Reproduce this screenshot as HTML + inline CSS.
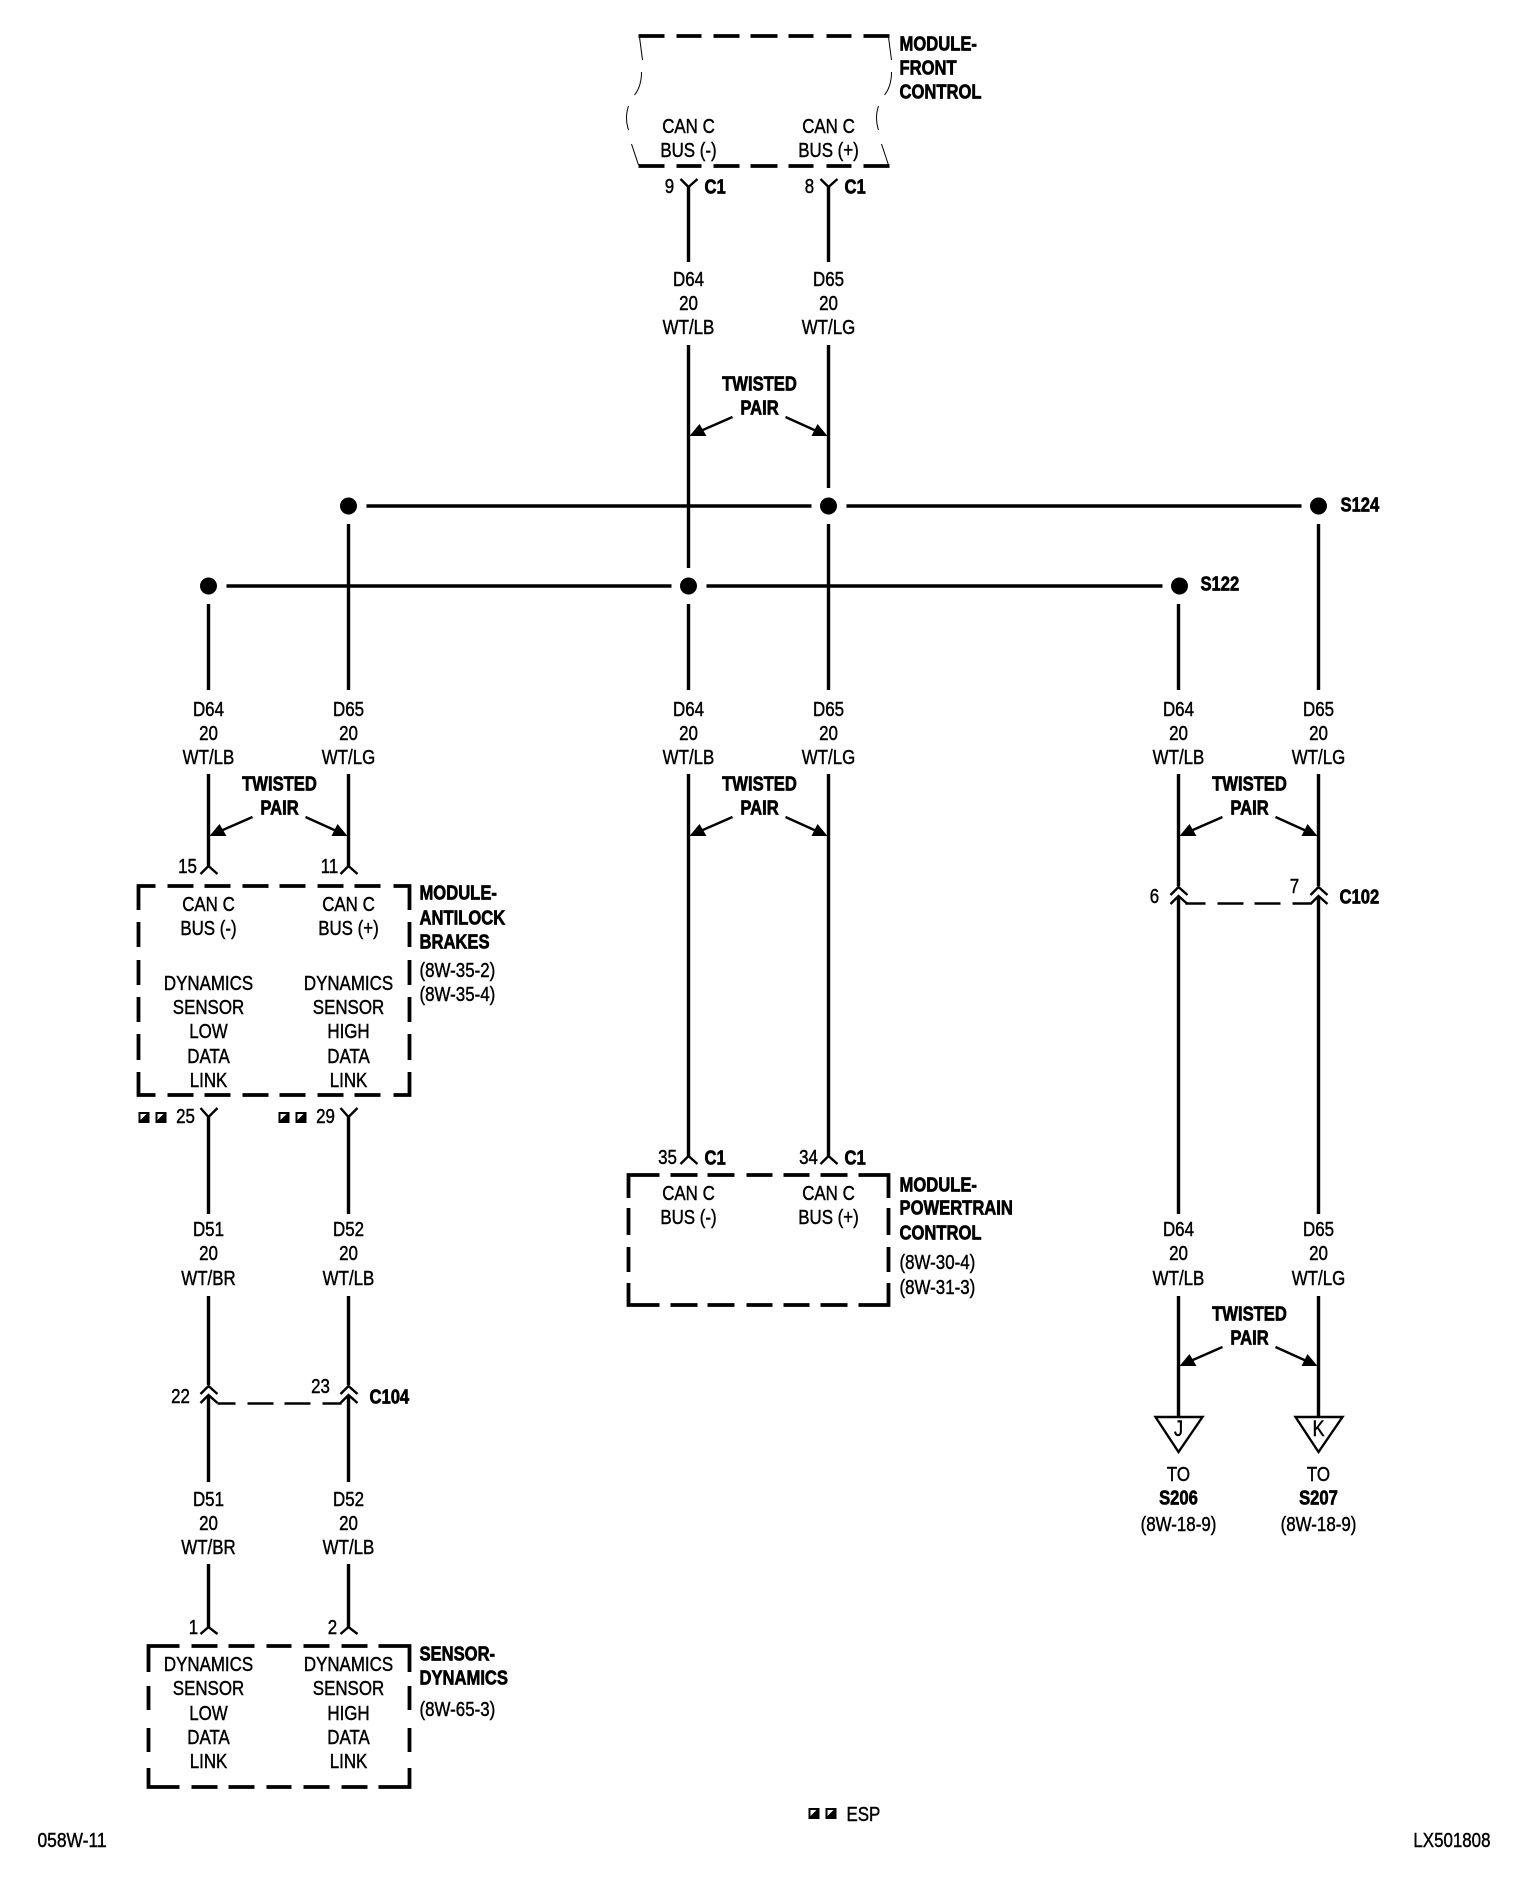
<!DOCTYPE html>
<html><head><meta charset="utf-8"><title>Wiring diagram</title>
<style>
html,body{margin:0;padding:0;background:#fff}
svg{display:block}
text{font-family:"Liberation Sans",sans-serif;font-size:20.5px;fill:#000;stroke:#000;stroke-width:.45;text-anchor:middle;transform-box:fill-box;transform-origin:50% 50%;transform:translateY(-1px) scaleX(.825)}
.b{font-weight:bold;stroke-width:.7;transform:translateY(-.5px) scaleX(.81)}
.s{text-anchor:start;transform-origin:0 50%}
.e{text-anchor:end;transform-origin:100% 50%}
.f{transform:translateY(-1px) scaleX(.85)}
.w{fill:none;stroke:#000;stroke-width:3.4}
.d{fill:none;stroke:#000;stroke-width:3.8}
.p{fill:none;stroke:#000;stroke-width:2.4}
.h{fill:none;stroke:#000;stroke-width:1}
</style></head><body>
<svg xmlns="http://www.w3.org/2000/svg" width="1536" height="1878" viewBox="0 0 1536 1878">
<defs>
<g id="tw"><path d="M44 -19L12 -5M97 -19L128 -5" fill="none" stroke="#000" stroke-width="2.4"/><path d="M1 0H18L11 -12ZM139 0H123L129 -12Z" fill="#000"/></g>
<g id="sq"><rect width="11" height="11" fill="#000"/><path d="M2 2H8L2 8Z" fill="#fff"/></g>
</defs>
<g transform="translate(.5 0)">
<!-- Front control box -->
<path class="d" d="M638 36h26M676 36h25M713 36h26M750 36h27M788 36h25M826 36h25M863 36h26M638 166h26M676 166h25M713 166h26M750 166h27M788 166h25M826 166h25M863 166h26"/>
<path class="h" d="M639 37L642 60M641 72C641 82 638 90 634 95M628 106C625 115 626 124 628 130M631 144L638 165M888 37L891 60M891 72C891 82 888 90 884 95M878 106C875 115 876 124 878 130M881 144L888 165"/>
<text x="688" y="134">CAN C</text><text x="688" y="158">BUS (-)</text>
<text x="828" y="134">CAN C</text><text x="828" y="158">BUS (+)</text>
<text class="b s" x="899" y="51">MODULE-</text><text class="b s" x="899" y="75">FRONT</text><text class="b s" x="899" y="99">CONTROL</text>

<!-- Wires -->
<path class="w" d="M688 187V262M688 345V568M688 604V690M688 774V1156M828 187V262M828 345V488M828 524V690M828 774V1156M208 604V690M208 774V866M208 1117V1214M208 1296V1385M208 1395V1482M208 1564V1627M348 524V690M348 774V866M348 1117V1214M348 1296V1385M348 1395V1482M348 1564V1627M1178 604V690M1178 774V886M1178 896V1214M1178 1296V1416M1318 524V690M1318 774V886M1318 896V1214M1318 1296V1416"/>
<path class="w" d="M366 506H811M846 506H1301M226 586H671M706 586H1162"/>
<circle cx="348" cy="506" r="8.5"/><circle cx="828" cy="506" r="8.5"/><circle cx="1318" cy="506" r="8.5"/>
<circle cx="208" cy="586" r="8.5"/><circle cx="688" cy="586" r="8.5"/><circle cx="1179" cy="586" r="8.5"/>
<text class="b s" x="1340" y="512">S124</text><text class="b s" x="1200" y="591">S122</text>

<!-- Pins -->
<path class="p" d="M680 179L688 187L697 179M820 179L828 187L837 179"/>
<text x="669" y="194">9</text><text class="b s" x="704" y="194">C1</text>
<text x="809" y="194">8</text><text class="b s" x="844" y="194">C1</text>
<path class="p" d="M200 874L208 866L217 874M340 874L348 866L357 874"/>
<text x="187" y="874">15</text><text x="329" y="874">11</text>
<path class="p" d="M200 1108L208 1117L217 1108M340 1108L348 1117L357 1108"/>
<text x="185" y="1124">25</text><text x="325" y="1124">29</text>
<use href="#sq" x="138" y="1112"/><use href="#sq" x="155" y="1112"/><use href="#sq" x="278" y="1112"/><use href="#sq" x="295" y="1112"/>
<path class="p" d="M680 1164L688 1156L697 1164M820 1164L828 1156L837 1164"/>
<text x="667" y="1165">35</text><text class="b s" x="704" y="1165">C1</text>
<text x="808" y="1165">34</text><text class="b s" x="844" y="1165">C1</text>
<path class="p" d="M200 1634L208 1627L217 1634M340 1634L348 1627L357 1634"/>
<text x="193" y="1635">1</text><text x="332" y="1635">2</text>

<!-- Inline connectors -->
<path class="p" d="M1170 895L1178 887L1187 895M1170 904L1178 896L1187 904M1310 895L1318 887L1327 895M1310 904L1318 896L1327 904"/>
<path class="p" d="M1185 903.500H1205M1217 903.500H1243M1254 903.500H1280M1292 903.500H1311"/>
<text x="1154" y="904">6</text><text x="1294" y="894">7</text><text class="b s" x="1339" y="904">C102</text>
<path class="p" d="M200 1394L208 1386L217 1394M200 1403L208 1395L217 1403M340 1394L348 1386L357 1394M340 1403L348 1395L357 1403"/>
<path class="p" d="M217 1403.500H235M247 1403.500H273M284 1403.500H310M322 1403.500H341"/>
<text x="180" y="1404">22</text><text x="320" y="1394">23</text><text class="b s" x="369" y="1404">C104</text>

<!-- Wire labels -->
<text x="688" y="287">D64</text><text x="688" y="311">20</text><text x="688" y="335">WT/LB</text>
<text x="828" y="287">D65</text><text x="828" y="311">20</text><text x="828" y="335">WT/LG</text>
<text x="208" y="717">D64</text><text x="208" y="741">20</text><text x="208" y="765">WT/LB</text>
<text x="348" y="717">D65</text><text x="348" y="741">20</text><text x="348" y="765">WT/LG</text>
<text x="688" y="717">D64</text><text x="688" y="741">20</text><text x="688" y="765">WT/LB</text>
<text x="828" y="717">D65</text><text x="828" y="741">20</text><text x="828" y="765">WT/LG</text>
<text x="1178" y="717">D64</text><text x="1178" y="741">20</text><text x="1178" y="765">WT/LB</text>
<text x="1318" y="717">D65</text><text x="1318" y="741">20</text><text x="1318" y="765">WT/LG</text>
<text x="1178" y="1237">D64</text><text x="1178" y="1261">20</text><text x="1178" y="1286">WT/LB</text>
<text x="1318" y="1237">D65</text><text x="1318" y="1261">20</text><text x="1318" y="1286">WT/LG</text>
<text x="208" y="1237">D51</text><text x="208" y="1261">20</text><text x="208" y="1286">WT/BR</text>
<text x="348" y="1237">D52</text><text x="348" y="1261">20</text><text x="348" y="1286">WT/LB</text>
<text x="208" y="1507">D51</text><text x="208" y="1531">20</text><text x="208" y="1555">WT/BR</text>
<text x="348" y="1507">D52</text><text x="348" y="1531">20</text><text x="348" y="1555">WT/LB</text>

<!-- Twisted pairs -->
<use href="#tw" x="688" y="436"/><use href="#tw" x="208" y="836"/><use href="#tw" x="688" y="836"/><use href="#tw" x="1178" y="836"/><use href="#tw" x="1178" y="1366"/>
<text class="b" x="759" y="391">TWISTED</text><text class="b" x="759" y="415">PAIR</text>
<text class="b" x="279" y="791">TWISTED</text><text class="b" x="279" y="815">PAIR</text>
<text class="b" x="759" y="791">TWISTED</text><text class="b" x="759" y="815">PAIR</text>
<text class="b" x="1249" y="791">TWISTED</text><text class="b" x="1249" y="815">PAIR</text>
<text class="b" x="1249" y="1321">TWISTED</text><text class="b" x="1249" y="1345">PAIR</text>

<!-- ABS box -->
<path class="d" d="M155 886H138V910M167 886h26M204 886h26M242 886h26M279 886h26M317 886h26M354 886h26M393 886H409V910M155 1095H138V1072M167 1095h26M204 1095h26M242 1095h26M279 1095h26M317 1095h26M354 1095h26M393 1095H409V1072M138 922v25M138 960v25M138 997v25M138 1034v26M409 922v25M409 960v25M409 997v25M409 1034v26"/>
<text x="208" y="912">CAN C</text><text x="208" y="936">BUS (-)</text>
<text x="348" y="912">CAN C</text><text x="348" y="936">BUS (+)</text>
<text x="208" y="991">DYNAMICS</text><text x="208" y="1015">SENSOR</text><text x="208" y="1039">LOW</text><text x="208" y="1064">DATA</text><text x="208" y="1088">LINK</text>
<text x="348" y="991">DYNAMICS</text><text x="348" y="1015">SENSOR</text><text x="348" y="1039">HIGH</text><text x="348" y="1064">DATA</text><text x="348" y="1088">LINK</text>
<text class="b s" x="419" y="900">MODULE-</text><text class="b s" x="419" y="925">ANTILOCK</text><text class="b s" x="419" y="949">BRAKES</text>
<text class="s" x="419" y="978">(8W-35-2)</text><text class="s" x="419" y="1002">(8W-35-4)</text>

<!-- Powertrain box -->
<path class="d" d="M659 1175H628V1198M670 1175h27M707 1175h27M746 1175h26M783 1175h26M820 1175h27M858 1175H888V1198M659 1305H628V1283M670 1305h27M707 1305h27M746 1305h26M783 1305h26M820 1305h27M858 1305H888V1283M628 1208v27M628 1247v25M888 1208v27M888 1247v25"/>
<text x="688" y="1201">CAN C</text><text x="688" y="1225">BUS (-)</text>
<text x="828" y="1201">CAN C</text><text x="828" y="1225">BUS (+)</text>
<text class="b s" x="899" y="1192">MODULE-</text><text class="b s" x="899" y="1215">POWERTRAIN</text><text class="b s" x="899" y="1240">CONTROL</text>
<text class="s" x="899" y="1270">(8W-30-4)</text><text class="s" x="899" y="1295">(8W-31-3)</text>

<!-- Sensor box -->
<path class="d" d="M179 1646H148V1672M191 1646h26M228 1646h26M266 1646h25M303 1646h26M341 1646h26M378 1646H409V1672M179 1787H148V1768M191 1787h26M228 1787h26M266 1787h25M303 1787h26M341 1787h26M378 1787H409V1768M148 1686v24M148 1728v24M409 1686v24M409 1728v24"/>
<text x="208" y="1672">DYNAMICS</text><text x="208" y="1696">SENSOR</text><text x="208" y="1721">LOW</text><text x="208" y="1745">DATA</text><text x="208" y="1769">LINK</text>
<text x="348" y="1672">DYNAMICS</text><text x="348" y="1696">SENSOR</text><text x="348" y="1721">HIGH</text><text x="348" y="1745">DATA</text><text x="348" y="1769">LINK</text>
<text class="b s" x="419" y="1661">SENSOR-</text><text class="b s" x="419" y="1685">DYNAMICS</text>
<text class="s" x="419" y="1717">(8W-65-3)</text>

<!-- Terminals -->
<path class="p" d="M1155 1417H1202L1178 1452ZM1295 1417H1342L1318 1452Z" stroke-linejoin="miter"/>
<text x="1178" y="1437" style="font-size:22px">J</text><text x="1318" y="1437" style="font-size:22px">K</text>
<text x="1178" y="1482">TO</text><text class="b" x="1178" y="1505">S206</text><text x="1178" y="1532">(8W-18-9)</text>
<text x="1318" y="1482">TO</text><text class="b" x="1318" y="1505">S207</text><text x="1318" y="1532">(8W-18-9)</text>

<!-- Footer -->
<use href="#sq" x="808" y="1808"/><use href="#sq" x="825" y="1808"/>
<text class="s" x="846" y="1822">ESP</text>
<text class="s f" x="37" y="1848">058W-11</text>
<text class="e" x="1490" y="1848">LX501808</text>
</g>
</svg>
</body></html>
